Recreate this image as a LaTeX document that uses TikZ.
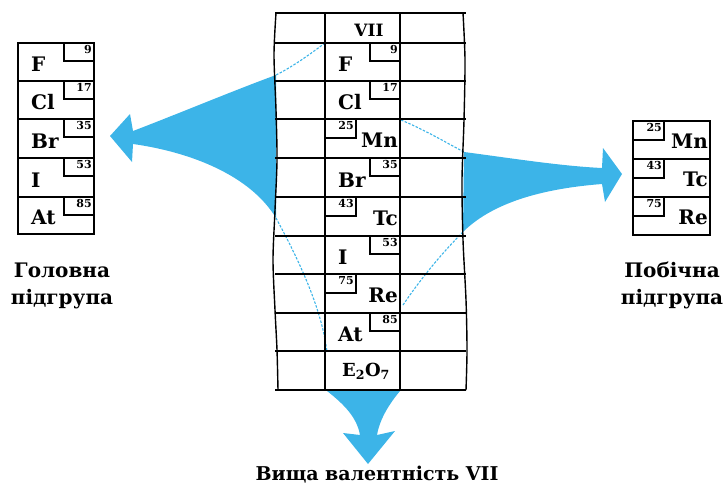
\documentclass[tikz,border=0pt]{standalone}
\usepackage{fontspec}
\setmainfont{DejaVu Serif}
\definecolor{arrowblue}{RGB}{60,180,232}
\newcommand{\mgcell}[7]{% left x, right x, top, bottom, symbol, number, name
  \draw[boxline] (#2-30,#3) |- (#2,#3+18);
  \node[num] (#7n) at (#2-2,#3+2) {#6};
  \node[sym] (#7) at (#1+13,#4-10) {#5};
}
\newcommand{\sgcell}[7]{% left x, right x, top, bottom, symbol, number, name
  \draw[boxline] (#1,#3+19) -| (#1+31,#3);
  \node[num] (#7n) at (#1+29,#3+2) {#6};
  \node[symr] (#7) at (#2-2,#4-11) {#5};
}
\begin{document}
\begin{tikzpicture}[x=1pt,y=-1pt,
  grid/.style={line width=1.4pt, black},
  boxline/.style={line width=1.1pt, black},
  sym/.style={font=\bfseries\fontsize{20}{20}\selectfont, inner sep=0pt, anchor=base west},
  symr/.style={sym, anchor=base east},
  num/.style={font=\bfseries\fontsize{11}{11}\selectfont, inner sep=0pt, anchor=north east},
  lab/.style={font=\bfseries\fontsize{20}{20}\selectfont, inner sep=0pt, anchor=base},
  fan/.style={fill=arrowblue, draw=none},
  thinline/.style={arrowblue, line width=1.1pt, dash pattern=on 2.5pt off 1.5pt}]
\useasboundingbox (0,0) rectangle (727,485);

% blue arrows
\fill[fan] (276,75) .. controls (235,90) and (175,115) .. (133,131) -- (130,114) -- (110,136) -- (132,162) -- (133,144) .. controls (190,152) and (250,175) .. (276,218) -- cycle;
\fill[fan] (464,152) .. controls (510,158) and (560,166) .. (602,168) -- (603,148) -- (622,174) -- (605,202) -- (602,184) .. controls (550,188) and (495,200) .. (463,232) -- cycle;
\fill[fan] (327,391) .. controls (345,405) and (357,418) .. (360,435) -- (343,433) -- (368,464) -- (395,431) -- (377,435) .. controls (380,418) and (390,403) .. (400,391) -- cycle;

\draw[thinline] (325,43) .. controls (305,58) and (290,68) .. (276,75);
\draw[thinline] (276,218) .. controls (300,262) and (322,310) .. (327,352);
\draw[thinline] (401,120) .. controls (425,130) and (445,142) .. (464,152);
\draw[thinline] (403,305) .. controls (420,280) and (440,255) .. (463,232);

% central table
\draw[grid] plot[smooth] coordinates {(276,13) (274,55) (276,110) (277,160) (275,210) (273,260) (275,310) (277,350) (278,390)};
\draw[grid] plot[smooth] coordinates {(463,13) (465,60) (464,120) (462,180) (463,240) (466,300) (467,350) (466,390)};
\foreach \y in {13,43,81,119,158,197,236,274,313,351,390} \draw[grid] (275,\y) -- (466,\y);
\draw[grid] (325,13) -- (325,390) (400,13) -- (400,390);
\node[lab, font=\bfseries\fontsize{17}{17}\selectfont] (vii) at (369,36) {VII};
\mgcell{325}{400}{43}{81}{F}{9}{cF}
\mgcell{325}{400}{81}{119}{Cl}{17}{cCl}
\sgcell{325}{400}{119}{158}{Mn}{25}{cMn}
\mgcell{325}{400}{158}{197}{Br}{35}{cBr}
\sgcell{325}{400}{197}{236}{Tc}{43}{cTc}
\mgcell{325}{400}{236}{274}{I}{53}{cI}
\sgcell{325}{400}{274}{313}{Re}{75}{cRe}
\mgcell{325}{400}{313}{351}{At}{85}{cAt}
\node[lab, font=\bfseries\fontsize{18}{18}\selectfont] (oxide) at (366,376) {E\textsubscript{2}O\textsubscript{7}};

% left table (main subgroup)
\draw[grid] (18,43) rectangle (94,234);
\foreach \y in {81,119,158,197} \draw[grid] (18,\y) -- (94,\y);
\mgcell{18}{94}{43}{81}{F}{9}{lF}
\mgcell{18}{94}{81}{119}{Cl}{17}{lCl}
\mgcell{18}{94}{119}{158}{Br}{35}{lBr}
\mgcell{18}{94}{158}{197}{I}{53}{lI}
\mgcell{18}{94}{197}{234}{At}{85}{lAt}

% right table (side subgroup)
\draw[grid] (633,121) rectangle (710,235);
\foreach \y in {159,197} \draw[grid] (633,\y) -- (710,\y);
\sgcell{633}{710}{121}{159}{Mn}{25}{rMn}
\sgcell{633}{710}{159}{197}{Tc}{43}{rTc}
\sgcell{633}{710}{197}{235}{Re}{75}{rRe}

% labels
\node[lab] (main1) at (62,277) {Головна};
\node[lab] (main2) at (62,304) {підгрупа};
\node[lab] (side1) at (672,277) {Побічна};
\node[lab] (side2) at (672,304) {підгрупа};
\node[lab, font=\bfseries\fontsize{19}{19}\selectfont] (bottom) at (377,480) {Вища валентність VII};
\end{tikzpicture}
\end{document}
